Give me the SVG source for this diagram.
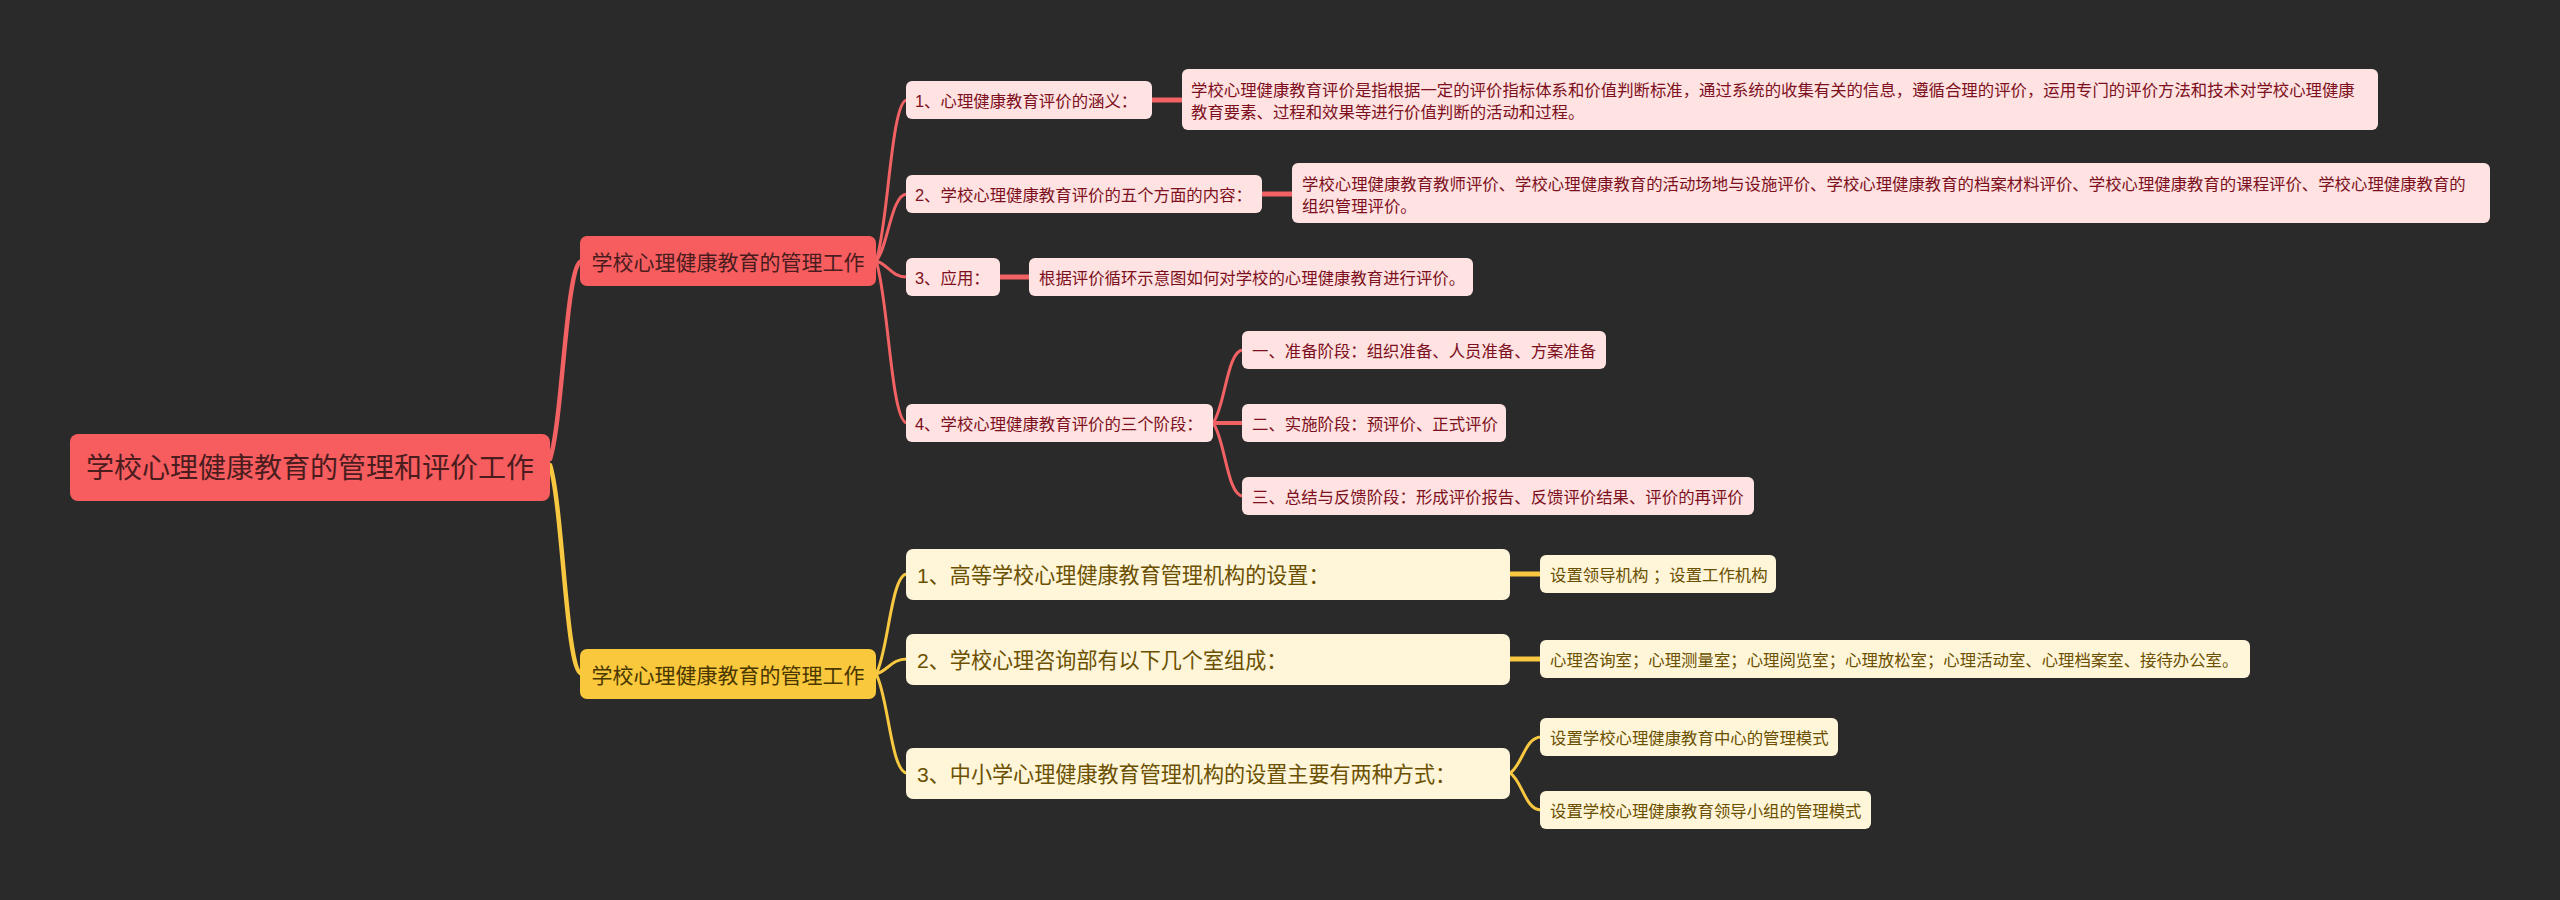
<svg xmlns="http://www.w3.org/2000/svg" width="2560" height="900" viewBox="0 0 2560 900">
<style>
text{font-family:"Liberation Sans","Noto Sans CJK SC",sans-serif;dominant-baseline:central}
.root rect{fill:#f75d5e}
.root text{fill:#4a1c1e;font-size:28px}
.rb rect{fill:#f75d5e}
.rb text{fill:#4a1c1e;font-size:21px}
.yb rect{fill:#f9c83c}
.yb text{fill:#4a3700;font-size:21px}
.rl rect{fill:#ffe2e2}
.rl text{fill:#7d1020;font-size:16.4px}
.yl rect{fill:#fff5d8}
.yl text{fill:#6a5000;font-size:16.4px}
.yl2 rect{fill:#fff5d8}
.yl2 text{fill:#6a5000;font-size:21.1px}
.cr{fill:none;stroke:#f26163;stroke-linecap:round}
.cy{fill:none;stroke:#f7c840;stroke-linecap:round}
</style>
<rect width="2560" height="900" fill="#2a2a2a"/>
<g id="connectors">
<path class="cr" stroke-width="4.5" d="M550,459 C563,419 566,261 582,261"/>
<path class="cy" stroke-width="4.5" d="M550,465 C563,507 566,674 582,674"/>
<path class="cr" stroke-width="3" d="M876,261 C888,229 891,100 907,100"/>
<path class="cr" stroke-width="3" d="M876,261 C888,248 891,194 907,194"/>
<path class="cr" stroke-width="3" d="M876,261 C888,264 891,277 907,277"/>
<path class="cr" stroke-width="3" d="M876,261 C888,293 891,423 907,423"/>
<path class="cr" stroke-width="5" d="M1152,100 L1183,100"/>
<path class="cr" stroke-width="5" d="M1262,194 L1293,194"/>
<path class="cr" stroke-width="5" d="M1000,277 L1030,277"/>
<path class="cr" stroke-width="3" d="M1213,423 C1225,408 1227,350 1243,350"/>
<path class="cr" stroke-width="4" d="M1213,423 L1243,423"/>
<path class="cr" stroke-width="3" d="M1213,423 C1225,438 1227,496 1243,496"/>
<path class="cy" stroke-width="3" d="M876,674 C888,654 891,574 907,574"/>
<path class="cy" stroke-width="3" d="M876,674 C888,671 891,659 907,659"/>
<path class="cy" stroke-width="3" d="M876,674 C888,694 891,773 907,773"/>
<path class="cy" stroke-width="5" d="M1510,574 L1541,574"/>
<path class="cy" stroke-width="5" d="M1510,659 L1541,659"/>
<path class="cy" stroke-width="3" d="M1510,773 C1522,766 1525,737 1541,737"/>
<path class="cy" stroke-width="3" d="M1510,773 C1522,780 1525,810 1541,810"/>
</g>
<g id="root" class="root"><rect x="70" y="434" width="480" height="67" rx="8"/><text x="310" y="468" text-anchor="middle">学校心理健康教育的管理和评价工作</text></g>
<g id="branch-red" class="rb"><rect x="580" y="236" width="296" height="50" rx="7"/><text x="728" y="262" text-anchor="middle">学校心理健康教育的管理工作</text></g>
<g id="branch-yellow" class="yb"><rect x="580" y="649" width="296" height="50" rx="7"/><text x="728" y="675" text-anchor="middle">学校心理健康教育的管理工作</text></g>
<g id="r1" class="rl"><rect x="906" y="81" width="246" height="38" rx="6"/><text x="915" y="101">1、心理健康教育评价的涵义：</text></g>
<g id="r1c" class="rl"><rect x="1182" y="69" width="1196" height="61" rx="6"/><text x="1191" y="90">学校心理健康教育评价是指根据一定的评价指标体系和价值判断标准，通过系统的收集有关的信息，遵循合理的评价，运用专门的评价方法和技术对学校心理健康</text><text x="1191" y="112">教育要素、过程和效果等进行价值判断的活动和过程。</text></g>
<g id="r2" class="rl"><rect x="906" y="175" width="356" height="38" rx="6"/><text x="915" y="195">2、学校心理健康教育评价的五个方面的内容：</text></g>
<g id="r2c" class="rl"><rect x="1292" y="163" width="1198" height="60" rx="6"/><text x="1302" y="184">学校心理健康教育教师评价、学校心理健康教育的活动场地与设施评价、学校心理健康教育的档案材料评价、学校心理健康教育的课程评价、学校心理健康教育的</text><text x="1302" y="206">组织管理评价。</text></g>
<g id="r3" class="rl"><rect x="906" y="258" width="94" height="38" rx="6"/><text x="915" y="278">3、应用：</text></g>
<g id="r3c" class="rl"><rect x="1029" y="258" width="444" height="38" rx="6"/><text x="1039" y="278">根据评价循环示意图如何对学校的心理健康教育进行评价。</text></g>
<g id="r4" class="rl"><rect x="906" y="404" width="307" height="38" rx="6"/><text x="915" y="424">4、学校心理健康教育评价的三个阶段：</text></g>
<g id="r4a" class="rl"><rect x="1242" y="331" width="364" height="38" rx="6"/><text x="1252" y="351">一、准备阶段：组织准备、人员准备、方案准备</text></g>
<g id="r4b" class="rl"><rect x="1242" y="404" width="264" height="38" rx="6"/><text x="1252" y="424">二、实施阶段：预评价、正式评价</text></g>
<g id="r4c" class="rl"><rect x="1242" y="477" width="512" height="38" rx="6"/><text x="1252" y="497">三、总结与反馈阶段：形成评价报告、反馈评价结果、评价的再评价</text></g>
<g id="y1" class="yl2"><rect x="906" y="549" width="604" height="51" rx="7"/><text x="917" y="575">1、高等学校心理健康教育管理机构的设置：</text></g>
<g id="y1c" class="yl"><rect x="1540" y="555" width="236" height="38" rx="6"/><text x="1550" y="575">设置领导机构 ；设置工作机构</text></g>
<g id="y2" class="yl2"><rect x="906" y="634" width="604" height="51" rx="7"/><text x="917" y="660">2、学校心理咨询部有以下几个室组成：</text></g>
<g id="y2c" class="yl"><rect x="1540" y="640" width="710" height="38" rx="6"/><text x="1550" y="660">心理咨询室；心理测量室；心理阅览室；心理放松室；心理活动室、心理档案室、接待办公室。</text></g>
<g id="y3" class="yl2"><rect x="906" y="748" width="604" height="51" rx="7"/><text x="917" y="774">3、中小学心理健康教育管理机构的设置主要有两种方式：</text></g>
<g id="y3a" class="yl"><rect x="1540" y="718" width="298" height="38" rx="6"/><text x="1550" y="738">设置学校心理健康教育中心的管理模式</text></g>
<g id="y3b" class="yl"><rect x="1540" y="791" width="331" height="38" rx="6"/><text x="1550" y="811">设置学校心理健康教育领导小组的管理模式</text></g>
</svg>
